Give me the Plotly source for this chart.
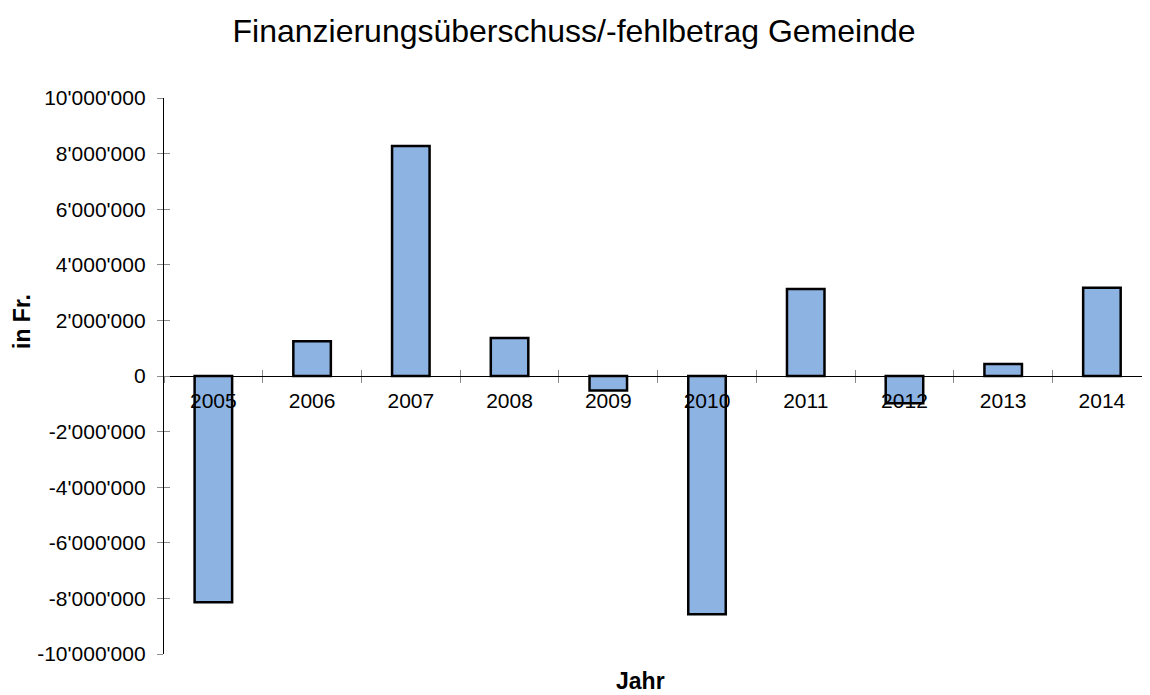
import plotly.graph_objects as go

years = ["2005", "2006", "2007", "2008", "2009", "2010", "2011", "2012", "2013", "2014"]
values = [-8140000, 1250000, 8270000, 1370000, -520000, -8570000, 3130000, -980000, 430000, 3170000]
y_tickvals = [-10000000, -8000000, -6000000, -4000000, -2000000, 0, 2000000, 4000000, 6000000, 8000000, 10000000]
y_ticktext = ["-10'000'000", "-8'000'000", "-6'000'000", "-4'000'000", "-2'000'000", "0",
              "2'000'000", "4'000'000", "6'000'000", "8'000'000", "10'000'000"]

title_text = "Finanzierungsüberschuss/-fehlbetrag Gemeinde"
x_title = "Jahr"
y_title = "in Fr."

FONT = "Liberation Sans, Arial, sans-serif"
TICKGRAY = "#8c8c8c"

W, H = 1142, 687
ML, MR, MT, MB = 156, 0, 90, 41
PW, PH = W - ML - MR, H - MT - MB

fig = go.Figure()
fig.add_trace(go.Bar(
    x=years, y=values, width=0.38,
    marker=dict(color="#8db3e2", line=dict(color="black", width=2.5)),
    showlegend=False, hoverinfo="x+y",
))
# invisible twin trace so that the overlay axes (inner half of crossing ticks) render
fig.add_trace(go.Bar(
    x=years, y=values, width=0.38, xaxis="x2", yaxis="y2",
    marker=dict(color="rgba(0,0,0,0)", line=dict(width=0)),
    showlegend=False, hoverinfo="skip",
))

xr = [-0.5, 9.487]
yr = [-10000000, 10000000]

fig.update_layout(
    width=W, height=H,
    margin=dict(l=ML, r=MR, t=MT, b=MB),
    paper_bgcolor="white", plot_bgcolor="white",
    font=dict(family=FONT, color="black", size=21),
    title=dict(text=title_text, x=566 / W, xanchor="center", y=1 - 23 / H, yanchor="middle",
               font=dict(size=32, family=FONT, color="black")),
    xaxis=dict(
        type="category", range=xr, anchor="free", position=0.5,
        showline=True, linecolor="black", linewidth=1.3,
        ticks="outside", ticklen=6, tickcolor=TICKGRAY, tickwidth=1,
        tickson="boundaries", showgrid=False, zeroline=False,
        tickfont=dict(size=21, family=FONT, color="black"),
        ticklabelstandoff=6,
    ),
    xaxis2=dict(
        type="category", range=xr, overlaying="x", anchor="free", position=0.5,
        showline=False, ticks="inside", ticklen=6, tickcolor=TICKGRAY, tickwidth=1,
        tickson="boundaries", showgrid=False, zeroline=False, showticklabels=False,
    ),
    yaxis=dict(
        range=yr, tickvals=y_tickvals, ticktext=y_ticktext,
        showline=True, linecolor="black", linewidth=1.3,
        ticks="outside", ticklen=6, tickcolor=TICKGRAY, tickwidth=1,
        showgrid=False, zeroline=False,
        tickfont=dict(size=21, family=FONT, color="black"),
        ticklabelstandoff=7,
    ),
    yaxis2=dict(
        range=yr, tickvals=y_tickvals, overlaying="y", anchor="x", side="left",
        showline=False, ticks="inside", ticklen=6, tickcolor=TICKGRAY, tickwidth=1,
        showgrid=False, zeroline=False, showticklabels=False,
    ),
    annotations=[
        dict(text="<b>" + x_title + "</b>", xref="paper", yref="paper",
             x=(632 - ML) / PW, y=-(673 - (MT + PH)) / PH,
             xanchor="center", yanchor="middle", showarrow=False, borderpad=0,
             font=dict(size=23, family=FONT, color="black")),
        dict(text="<b>" + y_title + "</b>", xref="paper", yref="paper",
             x=-(ML - 14) / PW, y=(MT + PH - 314) / PH,
             xanchor="center", yanchor="middle", textangle=-90, showarrow=False, borderpad=0,
             font=dict(size=23, family=FONT, color="black")),
    ],
)

fig.write_html("out.html")
